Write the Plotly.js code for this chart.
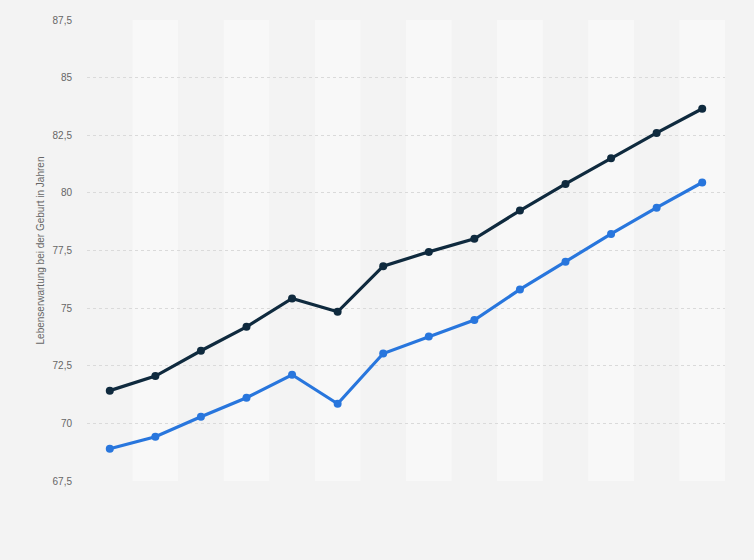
<!DOCTYPE html>
<html>
<head>
<meta charset="utf-8">
<script src="https://cdn.plot.ly/plotly-3.0.1.min.js"></script>
<style>
  html, body { margin: 0; padding: 0; background: #f3f3f3; }
  #plot { width: 754px; height: 560px; }
</style>
</head>
<body>
<div id="plot"></div>
<script>
// categories (no labels shown on the x axis in the reference)
var periods = ['1', '2', '3', '4', '5', '6', '7', '8', '9', '10', '11', '12', '13', '14'];
// dark line
var seriesDark = [71.42, 72.05, 73.15, 74.19, 75.42, 74.84, 76.82, 77.44, 78.01, 79.23, 80.39, 81.50, 82.60, 83.65];
// blue line
var seriesBlue = [68.90, 69.42, 70.29, 71.11, 72.11, 70.85, 73.03, 73.77, 74.48, 75.81, 77.01, 78.22, 79.36, 80.45];
var yTickVals = [67.5, 70, 72.5, 75, 77.5, 80, 82.5, 85, 87.5];
var yTickText = ['67,5', '70', '72,5', '75', '77,5', '80', '82,5', '85', '87,5'];

var plotDiv = document.getElementById('plot');

var dark_trace = {
   x: periods,
   y: seriesDark,
   mode: 'lines+markers',
   line: {width: 3.2, color: '#0f2a3e'},
   marker: {size: 8, color: '#0f2a3e'},
   hoverinfo: 'y'
};
var blue_trace = {
   x: periods,
   y: seriesBlue,
   mode: 'lines+markers',
   line: {width: 3.2, color: '#2876dd'},
   marker: {size: 8, color: '#2876dd'},
   hoverinfo: 'y'
};

// alternating column bands
var bands = [];
for (var i = 1; i < periods.length; i += 2) {
   bands.push({
      type: 'rect', layer: 'below',
      xref: 'x', yref: 'paper',
      x0: i - 0.5, x1: i + 0.5, y0: 0, y1: 1,
      fillcolor: '#f8f8f8', line: {width: 0}
   });
}

Plotly.newPlot(plotDiv, [dark_trace, blue_trace], {
   width: 754,
   height: 560,
   paper_bgcolor: '#f3f3f3',
   plot_bgcolor: '#f3f3f3',
   showlegend: false,
   separators: ',.',
   margin: {l: 87, r: 29, t: 20, b: 79},
   shapes: bands,
   xaxis: {
      type: 'category',
      range: [-0.5, periods.length - 0.5],
      showticklabels: false,
      showgrid: false,
      zeroline: false,
      showline: false,
      ticks: ''
   },
   yaxis: {
      range: [67.5, 87.5],
      tickvals: yTickVals,
      ticktext: yTickText,
      tickfont: {family: 'Liberation Sans, Arial, sans-serif', size: 10, color: '#666666'},
      ticklabelstandoff: 14,
      gridcolor: '#dadada',
      gridwidth: 1,
      griddash: 'dot',
      zeroline: false,
      showline: false,
      title: {
         text: 'Lebenserwartung bei der Geburt in Jahren',
         font: {family: 'Liberation Sans, Arial, sans-serif', size: 10, color: '#666666'},
         standoff: 6
      }
   }
}, {displayModeBar: false, staticPlot: true});
</script>
</body>
</html>
